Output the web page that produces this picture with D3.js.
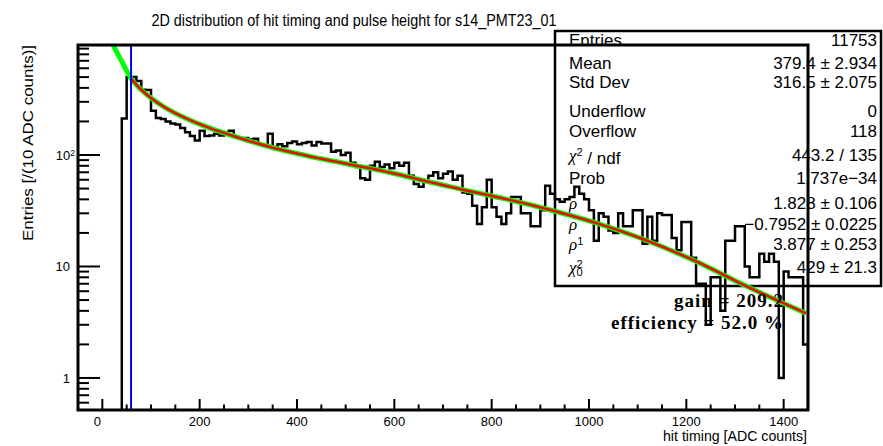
<!DOCTYPE html>
<html>
<head>
<meta charset="utf-8">
<script src="https://cdn.jsdelivr.net/npm/d3@7"></script>
<style>
  body { margin: 0; background: #fff; }
  text { font-family: "Liberation Sans", Arial, sans-serif; }
</style>
</head>
<body>
<div id="chart"></div>
<script>
const width = 883, height = 446;
const margin = {left: 78, right: 75, top: 45, bottom: 36};

const titleText = "2D distribution of hit timing and pulse height for s14_PMT23_01";
const xTitle = "hit timing [ADC counts]";
const yTitle = "Entries [/(10 ADC counts)]";

// histogram, bins of 10 ADC counts, first non-empty bin starts at 40
const binStart = 40, binWidth = 10;
const counts = [
  213, 500, 500, 460, 385, 383,
  250, 215, 210, 200, 192, 188, 175, 160, 148, 135,
  165, 148, 150, 155, 150, 160, 165, 145, 140, 142,
  138, 140, 125, 122, 155, 118, 125, 120, 128, 132,
  125, 128, 131, 122, 131, 127, 127, 107, 110, 100,
  105, 85, 78, 62, 60, 80, 87, 78, 82, 76,
  85, 80, 85, 65, 55, 52, 58, 65, 70, 62,
  68, 71, 60, 65, 46, 45, 35, 24, 34, 60,
  34, 28, 24, 30, 42, 42, 30, 30, 23, 23,
  32, 53, 45, 40, 38, 40, 42, 52, 45, 40,
  32, 17, 30, 28, 21, 20, 30, 23, 23, 32,
  32, 16, 28, 17, 30, 29, 29, 18, 14, 25,
  25, 12, 7, 7, 3, 8, 8, 4, 17, 17,
  23, 23, 10, 8, 8, 13, 11, 13, 11, 1,
  9, 8, 8, 8, 2
];

// fit curve (green = full function, red = fit range)
const fitX = [12, 22, 40, 60, 80, 100, 130, 170, 220, 280, 345, 447, 550, 714, 899, 1022, 1105, 1228, 1310, 1446];
const fitY = [1200, 970, 690, 480, 385, 325, 265, 215, 175, 143, 118, 93, 76, 52, 34, 24, 18, 10.7, 7.1, 3.8];
const fitStart = 59;      // red drawn from the blue marker on
const markerX = 59;       // blue vertical line

const xTicks = [0, 200, 400, 600, 800, 1000, 1200, 1400];
const yTicks = [1, 10, 100];

const statNames = ["Entries", "Mean", "Std Dev", "Underflow", "Overflow", "χ^{2} / ndf", "Prob", "ρ", "ρ", "ρ^{1}", "χ_{0}^{2}"];
const statValues = ["11753", "379.4 ± 2.934", "316.5 ± 2.075", "0", "118", "443.2 / 135", "1.737e−34", "1.828 ± 0.106", "−0.7952 ± 0.0225", "3.877 ± 0.253", "429 ± 21.3"];
const statRowsY = [40, 63, 82, 111, 131, 155, 178, 203, 224, 244, 267];

const infoLines = ["gain = 209.2", "efficiency = 52.0 %"];
const infoWidths = [109, 172];

const svg = d3.select("#chart").append("svg")
    .attr("width", width)
    .attr("height", height);

const plotW = width - margin.left - margin.right;
const plotH = height - margin.top - margin.bottom;

// latex-ish label: ^{..} superscript, _{..} subscript
function addLatex(sel, str) {
    let re = /(\^\{[^}]*\}|_\{[^}]*\})/g;
    let parts = str.split(re).filter(s => s.length);
    let prevShift = 0;
    parts.forEach(p => {
        if (p.startsWith("^{")) {
            sel.append("tspan").attr("dy", (-0.45 - prevShift) + "em").style("font-size", "0.65em")
                .attr("dx", prevShift > 0 ? "-0.55em" : null).text(p.slice(2, -1));
            prevShift = -0.45;
        } else if (p.startsWith("_{")) {
            sel.append("tspan").attr("dy", (0.3 - prevShift) + "em").style("font-size", "0.65em").text(p.slice(2, -1));
            prevShift = 0.3;
        } else {
            let t = sel.append("tspan").attr("dy", (-prevShift) + "em").text(p);
            if (/[χρ]/.test(p)) t.style("font-style", "italic").style("font-family", "'Liberation Serif', serif");
            prevShift = 0;
        }
    });
}

// title
svg.append("text")
    .attr("x", 354).attr("y", 26)
    .attr("text-anchor", "middle")
    .style("font-size", "16px")
    .attr("textLength", 405).attr("lengthAdjust", "spacingAndGlyphs")
    .text(titleText);

// stats box (sits below the histogram, like in the original)
let stats = svg.append("g");
stats.append("rect")
    .attr("x", 555).attr("y", 31)
    .attr("width", 326).attr("height", 255)
    .attr("fill", "#fff").attr("stroke", "#000").attr("stroke-width", 2.5);
statNames.forEach((n, i) => {
    let t = stats.append("text").attr("x", 569).attr("y", statRowsY[i] + 6).style("font-size", "17px");
    addLatex(t, n);
    stats.append("text").attr("x", 877).attr("y", statRowsY[i] + 6)
        .attr("text-anchor", "end").style("font-size", "17px").text(statValues[i]);
});

let plot = svg.append("g")
    .attr("transform", `translate(${margin.left}, ${margin.top})`);

plot.append("clipPath").attr("id", "frameClip")
    .append("rect").attr("width", plotW).attr("height", plotH);

let x = d3.scaleLinear().domain([-50, 1450]).range([0, plotW]);
let y = d3.scaleLog().domain([0.516, 970]).range([plotH, 0]);

// histogram outline
let pts = [[binStart, null]];
counts.forEach((c, i) => {
    let lo = binStart + i * binWidth;
    pts.push([lo, c], [lo + binWidth, c]);
});
pts.push([binStart + counts.length * binWidth, null]);
let histLine = d3.line()
    .x(d => x(d[0]))
    .y(d => d[1] ? y(d[1]) : plotH + 5);
plot.append("path")
    .attr("clip-path", "url(#frameClip)")
    .attr("d", histLine(pts))
    .attr("fill", "none").attr("stroke", "#000").attr("stroke-width", 2.5);

// fit curves
let fitPts = fitX.map((v, i) => [v, fitY[i]]);
let fitLine = d3.line().x(d => x(d[0])).y(d => y(d[1])).curve(d3.curveMonotoneX);
let g = plot.append("g").attr("clip-path", "url(#frameClip)");
g.append("path").attr("d", fitLine(fitPts))
    .attr("fill", "none").attr("stroke", "#00ff00").attr("stroke-width", 5);
g.append("path").attr("d", fitLine(fitPts.filter(d => d[0] >= fitStart)))
    .attr("fill", "none").attr("stroke", "#ff0000").attr("stroke-width", 2.5);

// blue marker
plot.append("line")
    .attr("x1", x(markerX)).attr("x2", x(markerX))
    .attr("y1", 0).attr("y2", plotH)
    .attr("stroke", "#0000ff").attr("stroke-width", 2);

// ticks
let xMinor = d3.range(-50, 1451, 50);
plot.selectAll(".xt").data(xMinor).enter().append("line")
    .attr("x1", d => x(d)).attr("x2", d => x(d))
    .attr("y1", plotH).attr("y2", d => plotH - (d % 200 === 0 ? 11 : 5.5))
    .attr("stroke", "#000").attr("stroke-width", 2);
let yMinor = [];
[0.1, 1, 10, 100].forEach(dec => d3.range(1, 10).forEach(k => {
    let v = dec * k;
    if (v >= 0.516 && v <= 970) yMinor.push(v);
}));
plot.selectAll(".yt").data(yMinor).enter().append("line")
    .attr("x1", 0).attr("x2", d => yTicks.includes(d) ? 22 : 11)
    .attr("y1", d => y(d)).attr("y2", d => y(d))
    .attr("stroke", "#000").attr("stroke-width", 2);

// tick labels
plot.selectAll(".xl").data(xTicks).enter().append("text")
    .attr("x", d => x(d) - (d === 0 ? 5 : 0)).attr("y", plotH + 16)
    .attr("text-anchor", "middle").style("font-size", "13px")
    .text(d => d);
yTicks.forEach(v => {
    let t = plot.append("text").attr("y", y(v) + 5).style("font-size", "13px").attr("text-anchor", "end");
    if (v === 100) {
        t.attr("x", -3);
        addLatex(t, "10^{2}");
    } else {
        t.attr("x", -8).text(v);
    }
});

// frame
plot.append("rect")
    .attr("width", plotW).attr("height", plotH)
    .attr("fill", "none").attr("stroke", "#000").attr("stroke-width", 3);

// axis titles
svg.append("text")
    .attr("x", 807).attr("y", 441)
    .attr("text-anchor", "end").style("font-size", "14px")
    .attr("textLength", 144).attr("lengthAdjust", "spacingAndGlyphs")
    .text(xTitle);
svg.append("text")
    .attr("transform", "translate(33, 45) rotate(-90)")
    .attr("text-anchor", "end").style("font-size", "14px")
    .attr("textLength", 196).attr("lengthAdjust", "spacingAndGlyphs")
    .text(yTitle);

// gain / efficiency
infoLines.forEach((s, i) => {
    svg.append("text")
        .attr("x", 783).attr("y", 307 + i * 22)
        .attr("text-anchor", "end")
        .style("font-family", "'Liberation Serif', 'Times New Roman', serif")
        .style("font-weight", "bold").style("font-size", "19px")
        .attr("textLength", infoWidths[i]).attr("lengthAdjust", "spacing")
        .text(s);
});
</script>
</body>
</html>
